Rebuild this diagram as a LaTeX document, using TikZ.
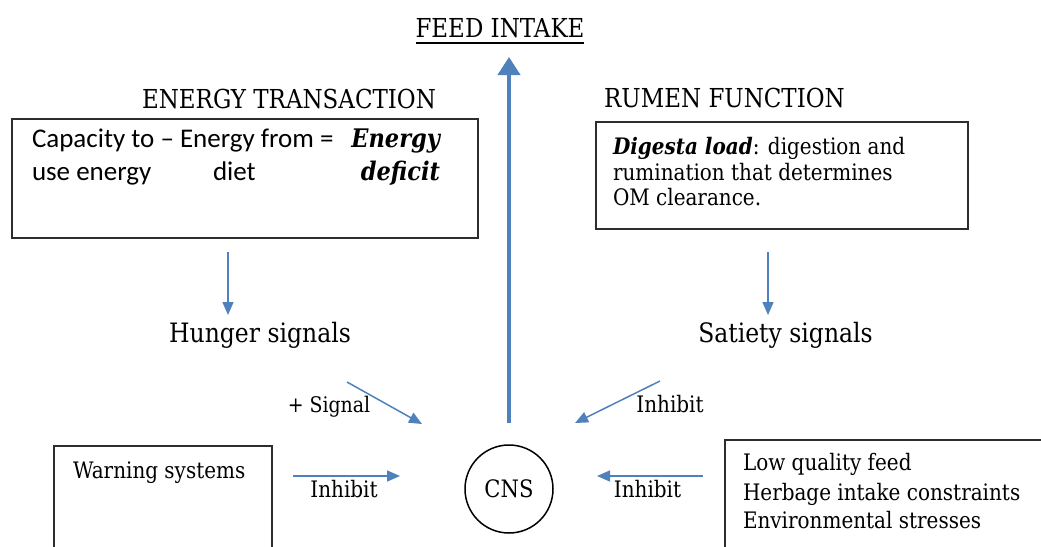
\documentclass[tikz,border=0pt]{standalone}
\usepackage{fontspec}
\setmainfont{DejaVu Serif}[FakeStretch=0.88]
\newfontfamily\carl{Carlito}
\usetikzlibrary{arrows.meta,calc}
\definecolor{arrblue}{RGB}{79,129,189}
\definecolor{boxgray}{RGB}{45,45,45}
\newcommand{\fsz}[1]{\fontsize{#1}{#1}\selectfont}
\begin{document}
\begin{tikzpicture}[x=1pt,y=-1pt,
  txt/.style={inner sep=0pt, outer sep=0pt},
  heading/.style={txt, font=\fsz{26.1}},
  signaltext/.style={txt, font=\fsz{26.7}},
  smalltext/.style={txt, font=\fsz{22.7}},
  boxnode/.style={draw=boxgray, line width=1.8pt, inner sep=0pt, outer sep=0pt, rectangle},
  thinarrow/.style={draw=arrblue, line width=1.5pt, -{Triangle[length=13pt,width=11pt]}},
  bigarrow/.style={draw=arrblue, line width=4pt, -{Triangle[length=18pt,width=22pt]}}
]
\clip (0,0) rectangle (1041,546);
\fill[white] (0,0) rectangle (1041,546);

% headings
\node[heading, anchor=base] (feed) at (500,37) {FEED INTAKE};
\draw[line width=1.3pt] ($(feed.base west)+(0,6)$) -- ($(feed.base east)+(0,6)$);
\node[heading, anchor=base] (energyT) at (289,108) {ENERGY TRANSACTION};
\node[heading, anchor=base] (rumenT) at (724.5,107) {RUMEN FUNCTION};

% boxes
\node[boxnode, minimum width=466pt, minimum height=119pt] (lbox) at (245,178.5) {};
\node[boxnode, minimum width=372pt, minimum height=107pt] (rbox) at (782,175.5) {};
\node[boxnode, minimum width=218pt, minimum height=154pt] (wbox) at (163,523) {};
\node[boxnode, minimum width=375pt, minimum height=160pt] (qbox) at (912.5,520) {};

% left box text
\node[txt, anchor=base west, font=\carl\fsz{27}] (l1) at (32,147) {Capacity to – Energy from =};
\node[txt, anchor=base east, font=\fsz{25.6}\bfseries\itshape] (l1b) at (440,147) {Energy};
\node[txt, anchor=base west, font=\carl\fsz{27}] (l2a) at (32,180) {use energy};
\node[txt, anchor=base west, font=\carl\fsz{27}] (l2b) at (213,180) {diet};
\node[txt, anchor=base east, font=\fsz{25.6}\bfseries\itshape] (l2c) at (440,180) {deficit};

% right box text
\node[smalltext, anchor=base west] (r1) at (613,154) {\textbf{\textit{Digesta load}}: digestion and};
\node[smalltext, anchor=base west] (r2) at (613,180) {rumination that determines};
\node[smalltext, anchor=base west] (r3) at (613,205) {OM clearance.};

% signals
\node[signaltext, anchor=base] (hunger) at (260,342) {Hunger signals};
\node[signaltext, anchor=base] (satiety) at (785.5,342) {Satiety signals};

% CNS
\node[draw=black, circle, line width=1.5pt, minimum size=88pt, inner sep=0pt, font=\fsz{24}] (cns) at (509,489) {\raisebox{-12pt}{CNS}};

% small labels
\node[txt, anchor=base, font=\fsz{21.5}] (plus) at (329,412) {+ Signal};
\node[smalltext, anchor=base] (inhTR) at (670,412) {Inhibit};
\node[smalltext, anchor=base] (inhBL) at (344,497) {Inhibit};
\node[smalltext, anchor=base] (inhBR) at (647.5,497) {Inhibit};

% bottom box texts
\node[smalltext, anchor=base west] (warn) at (73,478) {Warning systems};
\node[smalltext, anchor=base west] (q1) at (743,470) {Low quality feed};
\node[smalltext, anchor=base west] (q2) at (743,500) {Herbage intake constraints};
\node[smalltext, anchor=base west] (q3) at (743,528) {Environmental stresses};

% arrow end points
\coordinate (bigS) at (509,423);
\coordinate (bigE) at (509,57);
\coordinate (hS) at (228,252);
\coordinate (hE) at (228,315);
\coordinate (sS) at (768,252);
\coordinate (sE) at (768,315);
\coordinate (dlS) at (347,382);
\coordinate (dlE) at (422,424);
\coordinate (drS) at (660,381);
\coordinate (drE) at (575,423);
\coordinate (wS) at (293,476);
\coordinate (wE) at (400,476);
\coordinate (qS) at (703,476);
\coordinate (qE) at (597,476);

\draw[bigarrow] (bigS) -- (bigE);
\draw[thinarrow] (hS) -- (hE);
\draw[thinarrow] (sS) -- (sE);
\draw[thinarrow] (dlS) -- (dlE);
\draw[thinarrow] (drS) -- (drE);
\draw[thinarrow] (wS) -- (wE);
\draw[thinarrow] (qS) -- (qE);
\end{tikzpicture}
\end{document}
